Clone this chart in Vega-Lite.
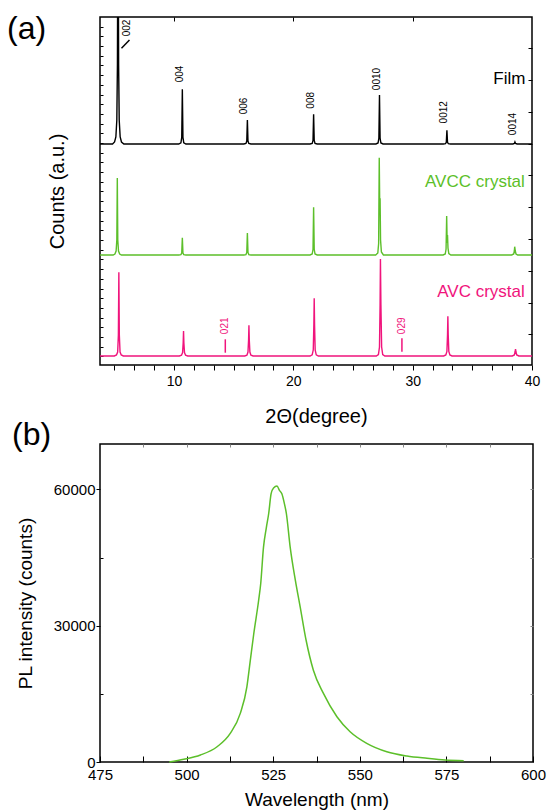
{
  "$schema": "https://vega.github.io/schema/vega-lite/v6.json",
  "padding": {"left": 6, "top": 11, "right": 5, "bottom": 0},
  "background": "white",
  "config": {
    "font": "Liberation Sans",
    "view": {"stroke": "black", "strokeWidth": 1.5},
    "axis": {"domain": false, "grid": false, "labelFont": "Liberation Sans", "titleFont": "Liberation Sans", "labelColor": "black", "titleColor": "black", "tickColor": "black", "titleFontWeight": "normal", "tickWidth": 1},
    "title": {"font": "Liberation Sans", "fontWeight": "normal", "color": "black"}
  },
  "datasets": {
    "xrd": [
      {"s":"Film","t":3.8,"c":221},{"s":"Film","t":4.85,"c":221},{"s":"Film","t":5.02,"c":223},{"s":"Film","t":5.13,"c":228},{"s":"Film","t":5.21,"c":245},{"s":"Film","t":5.26,"c":300},{"s":"Film","t":5.29,"c":420},{"s":"Film","t":5.33,"c":420},{"s":"Film","t":5.36,"c":300},{"s":"Film","t":5.41,"c":245},{"s":"Film","t":5.49,"c":228},{"s":"Film","t":5.6,"c":223},{"s":"Film","t":5.8,"c":221},
      {"s":"Film","t":10.4,"c":221},{"s":"Film","t":10.58,"c":222.1},{"s":"Film","t":10.65,"c":227.6},{"s":"Film","t":10.7,"c":275.7},{"s":"Film","t":10.75,"c":227.6},{"s":"Film","t":10.82,"c":222.1},{"s":"Film","t":11.0,"c":221},
      {"s":"Film","t":15.85,"c":221},{"s":"Film","t":16.03,"c":221.5},{"s":"Film","t":16.1,"c":223.9},{"s":"Film","t":16.15,"c":245},{"s":"Film","t":16.2,"c":223.9},{"s":"Film","t":16.27,"c":221.5},{"s":"Film","t":16.45,"c":221},
      {"s":"Film","t":21.4,"c":221},{"s":"Film","t":21.58,"c":221.6},{"s":"Film","t":21.65,"c":224.6},{"s":"Film","t":21.7,"c":250.7},{"s":"Film","t":21.75,"c":224.6},{"s":"Film","t":21.82,"c":221.6},{"s":"Film","t":22.0,"c":221},
      {"s":"Film","t":26.92,"c":221},{"s":"Film","t":27.1,"c":222},{"s":"Film","t":27.17,"c":226.9},{"s":"Film","t":27.22,"c":270},{"s":"Film","t":27.27,"c":226.9},{"s":"Film","t":27.34,"c":222},{"s":"Film","t":27.52,"c":221},
      {"s":"Film","t":32.57,"c":221},{"s":"Film","t":32.75,"c":221.3},{"s":"Film","t":32.82,"c":222.6},{"s":"Film","t":32.87,"c":234.7},{"s":"Film","t":32.92,"c":222.6},{"s":"Film","t":32.99,"c":221.3},{"s":"Film","t":33.17,"c":221},
      {"s":"Film","t":38.4,"c":221},{"s":"Film","t":38.52,"c":221.5},{"s":"Film","t":38.57,"c":223},{"s":"Film","t":38.62,"c":221.5},{"s":"Film","t":38.75,"c":221},{"s":"Film","t":40,"c":221},

      {"s":"AVCC crystal","t":3.8,"c":110},{"s":"AVCC crystal","t":4.9,"c":110},{"s":"AVCC crystal","t":5.05,"c":111},{"s":"AVCC crystal","t":5.15,"c":114},{"s":"AVCC crystal","t":5.21,"c":125},{"s":"AVCC crystal","t":5.25,"c":187},{"s":"AVCC crystal","t":5.29,"c":125},{"s":"AVCC crystal","t":5.35,"c":114},{"s":"AVCC crystal","t":5.45,"c":111},{"s":"AVCC crystal","t":5.6,"c":110},
      {"s":"AVCC crystal","t":10.4,"c":110},{"s":"AVCC crystal","t":10.58,"c":110.4},{"s":"AVCC crystal","t":10.65,"c":112},{"s":"AVCC crystal","t":10.7,"c":127.3},{"s":"AVCC crystal","t":10.75,"c":112},{"s":"AVCC crystal","t":10.82,"c":110.4},{"s":"AVCC crystal","t":11.0,"c":110},
      {"s":"AVCC crystal","t":15.85,"c":110},{"s":"AVCC crystal","t":16.03,"c":110.4},{"s":"AVCC crystal","t":16.1,"c":112.6},{"s":"AVCC crystal","t":16.15,"c":132},{"s":"AVCC crystal","t":16.2,"c":112.6},{"s":"AVCC crystal","t":16.27,"c":110.4},{"s":"AVCC crystal","t":16.45,"c":110},
      {"s":"AVCC crystal","t":21.4,"c":110},{"s":"AVCC crystal","t":21.58,"c":111},{"s":"AVCC crystal","t":21.65,"c":115.7},{"s":"AVCC crystal","t":21.7,"c":157.7},{"s":"AVCC crystal","t":21.75,"c":115.7},{"s":"AVCC crystal","t":21.82,"c":111},{"s":"AVCC crystal","t":22.0,"c":110},
      {"s":"AVCC crystal","t":26.9,"c":110},{"s":"AVCC crystal","t":27.08,"c":112},{"s":"AVCC crystal","t":27.15,"c":121.7},{"s":"AVCC crystal","t":27.2,"c":207.3},{"s":"AVCC crystal","t":27.24,"c":160},{"s":"AVCC crystal","t":27.27,"c":166.7},{"s":"AVCC crystal","t":27.31,"c":125},{"s":"AVCC crystal","t":27.38,"c":113},{"s":"AVCC crystal","t":27.55,"c":110},
      {"s":"AVCC crystal","t":32.55,"c":110},{"s":"AVCC crystal","t":32.73,"c":111},{"s":"AVCC crystal","t":32.8,"c":116},{"s":"AVCC crystal","t":32.85,"c":149},{"s":"AVCC crystal","t":32.89,"c":122},{"s":"AVCC crystal","t":32.92,"c":130},{"s":"AVCC crystal","t":32.96,"c":117},{"s":"AVCC crystal","t":33.03,"c":111.5},{"s":"AVCC crystal","t":33.2,"c":110},
      {"s":"AVCC crystal","t":38.3,"c":110},{"s":"AVCC crystal","t":38.47,"c":111},{"s":"AVCC crystal","t":38.52,"c":114},{"s":"AVCC crystal","t":38.55,"c":118.3},{"s":"AVCC crystal","t":38.6,"c":114},{"s":"AVCC crystal","t":38.66,"c":111},{"s":"AVCC crystal","t":38.8,"c":110},{"s":"AVCC crystal","t":40,"c":110},

      {"s":"AVC crystal","t":3.8,"c":9},{"s":"AVC crystal","t":5.0,"c":9},{"s":"AVC crystal","t":5.18,"c":10},{"s":"AVC crystal","t":5.28,"c":13},{"s":"AVC crystal","t":5.34,"c":30},{"s":"AVC crystal","t":5.38,"c":92.7},{"s":"AVC crystal","t":5.42,"c":30},{"s":"AVC crystal","t":5.48,"c":13},{"s":"AVC crystal","t":5.58,"c":10},{"s":"AVC crystal","t":5.75,"c":9},
      {"s":"AVC crystal","t":10.45,"c":9},{"s":"AVC crystal","t":10.63,"c":9.8},{"s":"AVC crystal","t":10.72,"c":12.5},{"s":"AVC crystal","t":10.77,"c":22},{"s":"AVC crystal","t":10.8,"c":34},{"s":"AVC crystal","t":10.83,"c":22},{"s":"AVC crystal","t":10.88,"c":12.5},{"s":"AVC crystal","t":10.97,"c":9.8},{"s":"AVC crystal","t":11.15,"c":9},
      {"s":"AVC crystal","t":15.93,"c":9},{"s":"AVC crystal","t":16.11,"c":9.8},{"s":"AVC crystal","t":16.2,"c":13},{"s":"AVC crystal","t":16.25,"c":25},{"s":"AVC crystal","t":16.28,"c":39.7},{"s":"AVC crystal","t":16.31,"c":25},{"s":"AVC crystal","t":16.36,"c":13},{"s":"AVC crystal","t":16.45,"c":9.8},{"s":"AVC crystal","t":16.63,"c":9},
      {"s":"AVC crystal","t":21.4,"c":9},{"s":"AVC crystal","t":21.58,"c":10.2},{"s":"AVC crystal","t":21.67,"c":15},{"s":"AVC crystal","t":21.72,"c":40},{"s":"AVC crystal","t":21.75,"c":66.7},{"s":"AVC crystal","t":21.78,"c":40},{"s":"AVC crystal","t":21.83,"c":15},{"s":"AVC crystal","t":21.92,"c":10.2},{"s":"AVC crystal","t":22.1,"c":9},
      {"s":"AVC crystal","t":26.95,"c":9},{"s":"AVC crystal","t":27.13,"c":10.5},{"s":"AVC crystal","t":27.22,"c":18},{"s":"AVC crystal","t":27.27,"c":60},{"s":"AVC crystal","t":27.3,"c":106},{"s":"AVC crystal","t":27.34,"c":60},{"s":"AVC crystal","t":27.4,"c":18},{"s":"AVC crystal","t":27.49,"c":10.5},{"s":"AVC crystal","t":27.67,"c":9},
      {"s":"AVC crystal","t":32.6,"c":9},{"s":"AVC crystal","t":32.78,"c":10},{"s":"AVC crystal","t":32.87,"c":13.5},{"s":"AVC crystal","t":32.92,"c":30},{"s":"AVC crystal","t":32.95,"c":48.7},{"s":"AVC crystal","t":32.98,"c":30},{"s":"AVC crystal","t":33.03,"c":13.5},{"s":"AVC crystal","t":33.12,"c":10},{"s":"AVC crystal","t":33.3,"c":9},
      {"s":"AVC crystal","t":38.35,"c":9},{"s":"AVC crystal","t":38.52,"c":10},{"s":"AVC crystal","t":38.58,"c":13},{"s":"AVC crystal","t":38.62,"c":16},{"s":"AVC crystal","t":38.66,"c":13},{"s":"AVC crystal","t":38.72,"c":10},{"s":"AVC crystal","t":38.9,"c":9},{"s":"AVC crystal","t":40,"c":9}
    ],
    "flab": [
      {"s":"Film","t":6.04,"c":337,"lab":"002"},
      {"s":"Film","t":10.47,"c":291,"lab":"004"},
      {"s":"Film","t":15.9,"c":259,"lab":"006"},
      {"s":"Film","t":21.46,"c":264.7,"lab":"008"},
      {"s":"Film","t":27.0,"c":286,"lab":"0010"},
      {"s":"Film","t":32.64,"c":252.7,"lab":"0012"},
      {"s":"Film","t":38.38,"c":241,"lab":"0014"},
      {"s":"AVC crystal","t":14.3,"c":39.2,"lab":"021"},
      {"s":"AVC crystal","t":29.1,"c":39.2,"lab":"029"}
    ],
    "slab": [
      {"s":"Film","t":39.45,"c":285.7,"lab":"Film"},
      {"s":"AVCC crystal","t":39.4,"c":182.7,"lab":"AVCC crystal"},
      {"s":"AVC crystal","t":39.4,"c":72.7,"lab":"AVC crystal"}
    ],
    "rules": [
      {"s":"Film","t":5.6,"c":316.7,"t2":6.27,"c2":325},
      {"s":"AVC crystal","t":14.3,"c":12.3,"t2":14.3,"c2":25.7},
      {"s":"AVC crystal","t":29.1,"c":13.3,"t2":29.1,"c2":26.7}
    ],
    "pl": [
      {"w":495,"i":0},{"w":499.2,"i":590},{"w":504,"i":1540},{"w":508.8,"i":3360},{"w":512.6,"i":6300},{"w":515.5,"i":10700},{"w":517.4,"i":16550},{"w":518.4,"i":22420},{"w":519.4,"i":28290},{"w":520.8,"i":35600},{"w":521.4,"i":39300},{"w":522.2,"i":47300},{"w":523.0,"i":51500},{"w":523.7,"i":54700},{"w":524.4,"i":59060},{"w":525.1,"i":60320},{"w":526.1,"i":60730},{"w":526.8,"i":59790},{"w":527.5,"i":59060},{"w":528.2,"i":57000},{"w":528.8,"i":54700},{"w":529.9,"i":47300},{"w":531.4,"i":40000},{"w":532.8,"i":34100},{"w":534.5,"i":26800},{"w":536.6,"i":20200},{"w":539.5,"i":15100},{"w":543.4,"i":9960},{"w":547.2,"i":6660},{"w":552.0,"i":4110},{"w":557.8,"i":2260},{"w":563.6,"i":1320},{"w":569.4,"i":810},{"w":574.6,"i":440},{"w":580,"i":290}
    ]
  },
  "vconcat": [
    {
      "width": 432,
      "height": 348,
      "title": {"text": "(a)", "anchor": "start", "frame": "group", "fontSize": 32, "offset": -29, "dx": -93},
      "layer": [
        {
          "data": {"name": "xrd"},
          "mark": {"type": "line", "strokeWidth": 1.4, "clip": true},
          "encoding": {
            "x": {"field": "t", "type": "quantitative", "scale": {"domain": [3.8, 40], "nice": false, "zero": false},
              "axis": {"orient": "bottom", "values": [5, 6.667, 8.333, 10, 11.667, 13.333, 15, 16.667, 18.333, 20, 21.667, 23.333, 25, 26.667, 28.333, 30, 31.667, 33.333, 35, 36.667, 38.333, 40], "labelExpr": "datum.value % 10 == 0 ? datum.label : ''", "tickSize": 5, "labelFontSize": 14, "labelPadding": 4, "labelFlush": false, "labelOverlap": false, "title": "2Θ(degree)", "titleFontSize": 20, "titlePadding": 18}},
            "y": {"field": "c", "type": "quantitative", "scale": {"domain": [0, 348], "nice": false, "zero": false},
              "axis": {"orient": "left", "values": [8.6, 18.3, 28.0, 37.7, 47.4, 57.1, 66.8, 76.5, 86.2, 95.9, 105.6, 115.3, 125.0, 134.7, 144.4, 154.1, 163.8, 173.5, 183.2, 192.9, 202.6, 212.3, 222.0, 231.7, 241.4, 251.1, 260.8, 270.5, 280.2, 289.9, 299.6, 309.3, 319.0, 328.7, 338.4], "labels": false, "tickSize": -3, "title": "Counts (a.u.)", "titleFontSize": 20, "titlePadding": 32}},
            "color": {"field": "s", "type": "nominal", "scale": {"domain": ["Film", "AVCC crystal", "AVC crystal"], "range": ["#000000", "#5cbf2a", "#f0147c"]}, "legend": null}
          }
        },
        {
          "data": {"name": "flab"},
          "mark": {"type": "text", "angle": 270, "fontSize": 10, "align": "center", "baseline": "middle"},
          "encoding": {
            "x": {"field": "t", "type": "quantitative", "scale": {"domain": [3.8, 40], "nice": false, "zero": false},
              "axis": {"orient": "top", "values": [10, 20, 30], "labels": false, "tickSize": -4, "title": null}},
            "y": {"field": "c", "type": "quantitative", "scale": {"domain": [0, 348], "nice": false, "zero": false},
              "axis": {"orient": "right", "values": [30.7, 62.5, 94.3, 126.1, 157.9, 189.7, 221.5, 253.3, 285.1, 316.9], "labels": false, "tickSize": -4, "title": null}},
            "text": {"field": "lab"},
            "color": {"field": "s", "type": "nominal", "scale": {"domain": ["Film", "AVCC crystal", "AVC crystal"], "range": ["#000000", "#5cbf2a", "#f0147c"]}, "legend": null}
          }
        },
        {
          "data": {"name": "slab"},
          "mark": {"type": "text", "fontSize": 17, "align": "right", "baseline": "middle"},
          "encoding": {
            "x": {"field": "t", "type": "quantitative", "axis": null},
            "y": {"field": "c", "type": "quantitative", "axis": null},
            "text": {"field": "lab"},
            "color": {"field": "s", "type": "nominal", "legend": null}
          }
        },
        {
          "data": {"name": "rules"},
          "mark": {"type": "rule", "strokeWidth": 1.5},
          "encoding": {
            "x": {"field": "t", "type": "quantitative", "axis": null},
            "y": {"field": "c", "type": "quantitative", "axis": null},
            "x2": {"field": "t2"},
            "y2": {"field": "c2"},
            "color": {"field": "s", "type": "nominal", "legend": null}
          }
        }
      ],
      "resolve": {"axis": {"x": "independent", "y": "independent"}}
    },
    {
      "width": 433,
      "height": 318,
      "title": {"text": "(b)", "anchor": "start", "frame": "group", "fontSize": 32, "offset": -8, "dx": -88},
      "layer": [
        {
          "data": {"name": "pl"},
          "mark": {"type": "line", "strokeWidth": 1.5, "color": "#5cbf2a", "interpolate": "monotone"},
          "encoding": {
            "x": {"field": "w", "type": "quantitative", "scale": {"domain": [475, 600], "nice": false, "zero": false},
              "axis": {"orient": "bottom", "values": [475, 487.5, 500, 512.5, 525, 537.5, 550, 562.5, 575, 587.5, 600], "labelExpr": "datum.value % 25 == 0 ? datum.label : ''", "tickSize": -6, "labelPadding": 11, "labelFontSize": 15, "labelFlush": false, "labelOverlap": false, "title": "Wavelength (nm)", "titleFontSize": 19, "titlePadding": 8}},
            "y": {"field": "i", "type": "quantitative", "scale": {"domain": [0, 70000], "nice": false},
              "axis": {"orient": "left", "values": [0, 30000, 60000], "format": "d", "tickSize": 4, "labelPadding": 1, "labelFontSize": 15, "title": "PL intensity (counts)", "titleFontSize": 19, "titlePadding": 18}}
          }
        },
        {
          "data": {"name": "pl"},
          "mark": {"type": "line", "strokeOpacity": 0},
          "encoding": {
            "x": {"field": "w", "type": "quantitative", "scale": {"domain": [475, 600], "nice": false, "zero": false},
              "axis": {"orient": "top", "values": [487.5, 500, 512.5, 525, 537.5, 550, 562.5, 575, 587.5], "labels": false, "tickSize": -3, "tickColor": "#888888", "title": null}},
            "y": {"field": "i", "type": "quantitative", "scale": {"domain": [0, 70000], "nice": false},
              "axis": {"orient": "left", "values": [15000, 45000], "labels": false, "tickSize": -3, "title": null}}
          }
        },
        {
          "data": {"name": "pl"},
          "mark": {"type": "line", "strokeOpacity": 0},
          "encoding": {
            "x": {"field": "w", "type": "quantitative", "axis": null},
            "y": {"field": "i", "type": "quantitative", "scale": {"domain": [0, 70000], "nice": false},
              "axis": {"orient": "right", "values": [15000, 30000, 45000, 60000], "labels": false, "tickSize": -3, "tickColor": "#888888", "title": null}}
          }
        }
      ],
      "resolve": {"axis": {"x": "independent", "y": "independent"}}
    }
  ],
  "spacing": 79,
  "bounds": "flush"
}
